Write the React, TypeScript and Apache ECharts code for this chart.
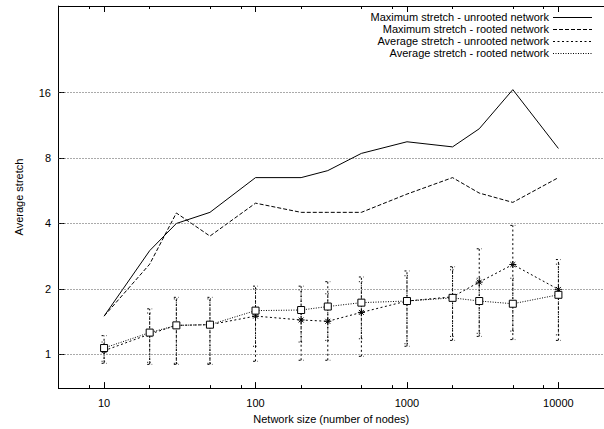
import React, { useEffect, useRef } from "react";
import * as echarts from "echarts";

const networkSizes = [10, 20, 30, 50, 100, 200, 300, 500, 1000, 2000, 3000, 5000, 10000];
const maxUnrooted = [1.5, 3.0, 4.0, 4.5, 6.5, 6.5, 7.0, 8.4, 9.5, 9.0, 10.9, 16.5, 8.85];
const maxRooted = [1.5, 2.6, 4.47, 3.5, 4.96, 4.5, 4.5, 4.5, 5.46, 6.5, 5.52, 5.0, 6.5];
const avgUnrooted = [1.04, 1.24, 1.36, 1.37, 1.5, 1.44, 1.42, 1.56, 1.76, 1.84, 2.15, 2.59, 1.99];
const avgUnrootedLow = [0.91, 0.9, 0.9, 0.9, 0.93, 0.94, 0.94, 0.98, 1.09, 1.16, 1.21, 1.17, 1.16];
const avgUnrootedHigh = [1.22, 1.62, 1.83, 1.83, 2.06, 2.06, 2.16, 2.27, 2.42, 2.53, 3.06, 3.92, 2.73];
const avgRooted = [1.07, 1.26, 1.36, 1.37, 1.59, 1.6, 1.66, 1.73, 1.76, 1.82, 1.76, 1.71, 1.88];
const avgRootedLow = [0.93, 0.92, 0.91, 0.91, 1.09, 1.14, 1.16, 1.18, 1.12, 1.21, 1.25, 1.28, 1.23];
const avgRootedHigh = [1.14, 1.55, 1.8, 1.8, 2.0, 1.98, 1.9, 2.16, 2.3, 2.45, 2.24, 2.24, 2.6];

const xMajorTicks = [10, 100, 1000, 10000];
const xMinorTicks = [8, 20, 50, 80, 200, 500, 800, 2000, 5000, 8000];
const yTicks = [1, 2, 4, 8, 16];

const legendLabels = [
  "Maximum stretch - unrooted network",
  "Maximum stretch - rooted network",
  "Average stretch - unrooted network",
  "Average stretch - rooted network",
];

const FONT = "Liberation Sans, Arial, sans-serif";
const DASH_MAX_ROOTED = [4, 2];
const DASH_AVG_UNROOTED = [2, 2.5];
const DASH_AVG_ROOTED = [1, 1.5];
const LEGEND_DASHES: (number[] | null)[] = [null, DASH_MAX_ROOTED, DASH_AVG_UNROOTED, DASH_AVG_ROOTED];

const STAR = "path://M0,5L10,5M5,0L5,10M1.5,1.5L8.5,8.5M8.5,1.5L1.5,8.5";

function pairs(ys: number[]) {
  return networkSizes.map((x, i) => [x, ys[i]]);
}
function triples(lo: number[], hi: number[]) {
  return networkSizes.map((x, i) => [x, lo[i], hi[i]]);
}

function errorRenderer(dash: number[]) {
  return (params: any, api: any) => {
    const x = api.value(0);
    const p1 = api.coord([x, api.value(1)]);
    const p2 = api.coord([x, api.value(2)]);
    const w = 2.5;
    const style = { stroke: "#000", lineWidth: 1, lineDash: dash, fill: "none" };
    return {
      type: "group",
      children: [
        { type: "line", shape: { x1: p1[0], y1: p1[1], x2: p2[0], y2: p2[1] }, style },
        { type: "line", shape: { x1: p1[0] - w, y1: p1[1], x2: p1[0] + w, y2: p1[1] }, style },
        { type: "line", shape: { x1: p2[0] - w, y1: p2[1], x2: p2[0] + w, y2: p2[1] }, style },
      ],
    };
  };
}

export default function App() {
  const ref = useRef<HTMLDivElement>(null);
  useEffect(() => {
    if (!ref.current) return;
    const chart = echarts.init(ref.current, null, { renderer: "svg" });

    const baseX = {
      type: "log" as const,
      logBase: 10,
      min: 5,
      max: 20000,
      gridIndex: 0,
      splitLine: { show: false },
      axisLine: { show: true, lineStyle: { color: "#000", width: 1 } },
    };

    const graphics: any[] = [];
    legendLabels.forEach((t, i) => {
      const y = 17 + i * 12;
      graphics.push({
        type: "text",
        x: 549,
        y,
        style: { text: t, fill: "#000", font: `11px ${FONT}`, align: "right", verticalAlign: "middle" },
      });
      const dash = LEGEND_DASHES[i];
      graphics.push({
        type: "line",
        shape: { x1: 553, y1: y + 0.5, x2: 592, y2: y + 0.5 },
        style: { stroke: "#000", lineWidth: 1, lineDash: dash || undefined },
      });
    });

    chart.setOption({
      animation: false,
      backgroundColor: "#fff",
      textStyle: { fontFamily: FONT },
      grid: { left: 58.5, top: 6, right: -3.6, bottom: 36.7, containLabel: false },
      xAxis: [
        {
          ...baseX,
          position: "bottom",
          name: "Network size (number of nodes)",
          nameLocation: "middle",
          nameGap: 24,
          nameTextStyle: { color: "#000", fontSize: 11, fontFamily: FONT },
          axisTick: { show: true, inside: true, length: 6, customValues: xMajorTicks, lineStyle: { color: "#000" } },
          axisLabel: {
            show: true,
            customValues: xMajorTicks,
            margin: 9,
            color: "#000",
            fontSize: 11,
            fontFamily: FONT,
            formatter: (v: number) => String(Math.round(v)),
          },
        },
        {
          ...baseX,
          position: "bottom",
          axisTick: { show: true, inside: true, length: 3, customValues: xMinorTicks, lineStyle: { color: "#000" } },
          axisLabel: { show: false },
        },
        {
          ...baseX,
          position: "top",
          axisTick: { show: true, inside: true, length: 6, customValues: xMajorTicks, lineStyle: { color: "#000" } },
          axisLabel: { show: false },
        },
        {
          ...baseX,
          position: "top",
          axisTick: { show: true, inside: true, length: 3, customValues: xMinorTicks, lineStyle: { color: "#000" } },
          axisLabel: { show: false },
        },
      ],
      yAxis: [
        {
          type: "log",
          logBase: 2,
          min: 0.7,
          max: 40,
          position: "left",
          name: "Average stretch",
          nameLocation: "middle",
          nameRotate: 90,
          nameGap: 34,
          nameTextStyle: { color: "#000", fontSize: 11, fontFamily: FONT },
          splitLine: { show: false },
          axisLine: { show: true, lineStyle: { color: "#000", width: 1 } },
          axisTick: { show: true, inside: true, length: 6, customValues: yTicks, lineStyle: { color: "#000" } },
          axisLabel: {
            show: true,
            customValues: yTicks,
            margin: 7.5,
            color: "#000",
            fontSize: 11,
            fontFamily: FONT,
            formatter: (v: number) => String(Math.round(v)),
          },
        },
      ],
      series: [
        {
          type: "custom",
          name: "err-unrooted",
          xAxisIndex: 0,
          yAxisIndex: 0,
          data: triples(avgUnrootedLow, avgUnrootedHigh),
          encode: { x: 0, y: [1, 2] },
          renderItem: errorRenderer(DASH_AVG_UNROOTED),
          silent: true,
          z: 1,
        },
        {
          type: "custom",
          name: "err-rooted",
          xAxisIndex: 0,
          yAxisIndex: 0,
          data: triples(avgRootedLow, avgRootedHigh),
          encode: { x: 0, y: [1, 2] },
          renderItem: errorRenderer(DASH_AVG_ROOTED),
          silent: true,
          z: 1,
        },
        {
          type: "line",
          name: legendLabels[0],
          data: pairs(maxUnrooted),
          symbol: "none",
          lineStyle: { color: "#000", width: 1, type: "solid" },
          z: 3,
          markLine: {
            silent: true,
            symbol: ["none", "none"],
            label: { show: false },
            lineStyle: { color: "#555", width: 1, type: [1, 2] },
            data: yTicks.map((v) => ({ yAxis: v })),
            animation: false,
          },
        },
        {
          type: "line",
          name: legendLabels[1],
          data: pairs(maxRooted),
          symbol: "none",
          lineStyle: { color: "#000", width: 1, type: DASH_MAX_ROOTED },
          z: 3,
        },
        {
          type: "line",
          name: legendLabels[2],
          data: pairs(avgUnrooted),
          symbol: STAR,
          symbolSize: 7,
          showSymbol: true,
          itemStyle: { color: "#000", borderColor: "#000", borderWidth: 1 },
          lineStyle: { color: "#000", width: 1, type: DASH_AVG_UNROOTED },
          z: 3,
        },
        {
          type: "line",
          name: legendLabels[3],
          data: pairs(avgRooted),
          symbol: "rect",
          symbolSize: 7,
          showSymbol: true,
          itemStyle: { color: "#fff", borderColor: "#000", borderWidth: 1 },
          lineStyle: { color: "#000", width: 1, type: DASH_AVG_ROOTED },
          z: 4,
        },
      ],
      graphic: graphics,
    });

    return () => chart.dispose();
  }, []);

  return (
    <div
      ref={ref}
      style={{ position: "absolute", left: 0, top: 0, width: 604, height: 429, background: "#fff" }}
    />
  );
}
